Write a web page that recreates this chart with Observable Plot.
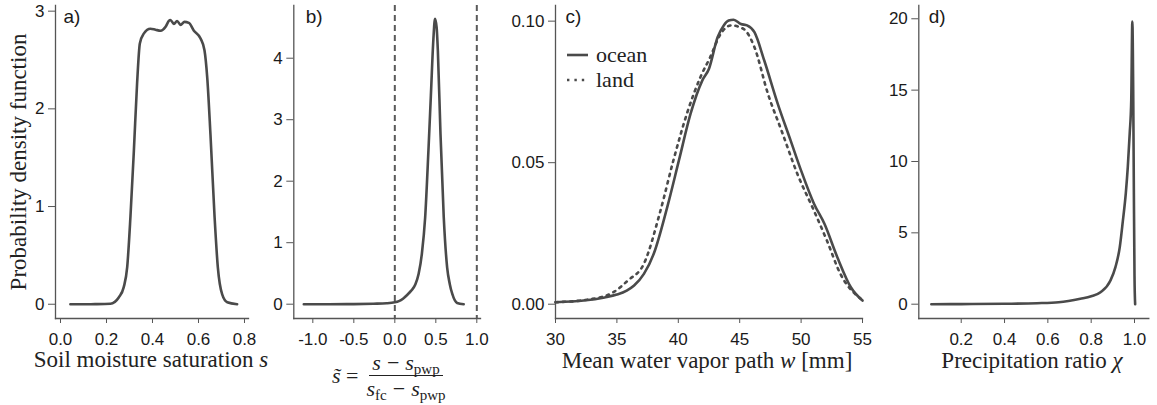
<!DOCTYPE html>
<html><head><meta charset="utf-8">
<script src="https://cdn.jsdelivr.net/npm/d3@7"></script>
<script src="https://cdn.jsdelivr.net/npm/@observablehq/plot@0.6"></script>
<style>
body{margin:0;background:#fff;}
#wrap{position:relative;width:1157px;height:405px;overflow:hidden;background:#fff;}
.ttl{position:absolute;font-family:"Liberation Serif",serif;font-size:23px;color:#222;white-space:nowrap;line-height:1;transform:translate(-50%,-50%);}
.ttl i{font-style:italic;}
#legend{position:absolute;left:566px;top:42px;font-family:"Liberation Serif",serif;font-size:22px;color:#222;line-height:25px;}
#legend div{display:flex;align-items:center;}
#legend svg{margin-right:6px;}
#formula{position:absolute;left:332px;top:352px;font-family:"Liberation Serif",serif;font-size:22px;color:#222;display:flex;align-items:center;white-space:nowrap;line-height:21px;}
#formula sub{font-size:15px;vertical-align:baseline;position:relative;top:4px;font-style:normal;line-height:0;}
#formula .frac{display:inline-flex;flex-direction:column;align-items:center;margin-left:8px;}
#formula .num{border-bottom:1.3px solid #222;padding:0 3px 2px 3px;height:21px;}
#formula .den{padding-top:2px;height:21px;}
#formula .op{display:inline-block;margin:0 6px;}
</style></head><body><div id="wrap"></div>
<script>
// ---------- data ----------
// a) soil moisture saturation s
const aS = [0.043, 0.10, 0.15, 0.217, 0.254, 0.275, 0.29, 0.304, 0.319, 0.333, 0.345, 0.362, 0.391, 0.413, 0.435, 0.457, 0.471, 0.478, 0.493, 0.507, 0.522, 0.539, 0.558, 0.58, 0.609, 0.626, 0.638, 0.652, 0.67, 0.684, 0.703, 0.725, 0.768];
const aPdf = [0, 0, 0.001, 0.005, 0.072, 0.175, 0.38, 0.89, 1.57, 2.26, 2.67, 2.77, 2.82, 2.81, 2.80, 2.84, 2.90, 2.91, 2.87, 2.90, 2.86, 2.89, 2.88, 2.80, 2.72, 2.60, 2.32, 1.74, 0.89, 0.38, 0.10, 0.02, 0];
// b) normalised soil moisture
const bS = [-1.11, -0.8, -0.5, -0.26, -0.1, 0.0, 0.05, 0.1, 0.15, 0.2, 0.25, 0.29, 0.33, 0.37, 0.41, 0.44, 0.47, 0.49, 0.51, 0.525, 0.557, 0.597, 0.638, 0.67, 0.7, 0.76, 0.84];
const bPdf = [0, 0, 0.002, 0.008, 0.015, 0.03, 0.05, 0.09, 0.15, 0.22, 0.32, 0.49, 0.82, 1.41, 2.5, 3.4, 4.3, 4.64, 4.5, 4.12, 2.77, 1.41, 0.6, 0.33, 0.17, 0.02, 0];
const bGuides = [0, 1];
// c) mean water vapour path
const cOceanW = [30, 32.3, 34, 35, 35.8, 36.4, 37.2, 38.0, 39.1, 40.05, 41.0, 41.95, 42.5, 43.2, 43.7, 44.1, 44.5, 45.1, 45.6, 46.2, 47.0, 48.1, 49.15, 50.0, 51.05, 51.9, 52.95, 54.05, 55];
const cOceanPdf = [0.0007, 0.0013, 0.0024, 0.0034, 0.0048, 0.0066, 0.0107, 0.0178, 0.0343, 0.0508, 0.0673, 0.079, 0.0832, 0.0943, 0.0985, 0.1002, 0.1005, 0.099, 0.0985, 0.0961, 0.0861, 0.0708, 0.0578, 0.0472, 0.0355, 0.0284, 0.0166, 0.006, 0.0013];
const cLandW = [30, 32.6, 34.7, 35.9, 37.2, 38.55, 39.6, 40.7, 41.8, 42.6, 43.45, 44.3, 45.3, 46.2, 47.3, 48.4, 49.7, 51.05, 52.1, 53.2, 54.85];
const cLandPdf = [0.0007, 0.0016, 0.0042, 0.0084, 0.0143, 0.0331, 0.0508, 0.0673, 0.0802, 0.0873, 0.0955, 0.0985, 0.0973, 0.0908, 0.0743, 0.0614, 0.046, 0.033, 0.0225, 0.0107, 0.0019];
const cSeries = ["ocean", "land"];
// d) precipitation ratio chi
const dChi = [0.062, 0.15, 0.25, 0.4, 0.55, 0.65, 0.75, 0.8, 0.843, 0.889, 0.912, 0.932, 0.946, 0.96, 0.969, 0.978, 0.985, 0.99, 0.994, 0.997, 1.0, 1.003];
const dPdf = [0, 0.005, 0.01, 0.03, 0.07, 0.14, 0.38, 0.55, 0.84, 1.66, 2.6, 4.0, 5.8, 7.8, 9.6, 12, 14.3, 19.8, 15, 8, 2, 0];

// tick values
const aXTicks = [0, 0.2, 0.4, 0.6, 0.8], aYTicks = [0, 1, 2, 3];
const bXTicks = [-1, -0.5, 0, 0.5, 1], bYTicks = [0, 1, 2, 3, 4];
const cXTicks = [30, 35, 40, 45, 50, 55], cYTicks = [0, 0.05, 0.10];
const dXTicks = [0.2, 0.4, 0.6, 0.8, 1.0], dYTicks = [0, 5, 10, 15, 20];
const panelLabels = ["a)", "b)", "c)", "d)"];

// ---------- drawing ----------
const lineColor = "#4a4a4a", axisColor = "#555";
const landDash = "2.4,5";
const wrap = document.getElementById("wrap");
const zip = (xs, ys) => xs.map((x, i) => ({x, y: ys[i]}));

function panel({left, width, marginLeft, marginRight, xDomain, yDomain, xTicks, yTicks, xFmt, yFmt, marks, label, labelDx}) {
  const p = Plot.plot({
    width, height: 405, marginLeft, marginRight, marginTop: 5, marginBottom: 87,
    style: {fontFamily: "'Liberation Sans', Arial, sans-serif", fontSize: "17px", color: "#222", background: "transparent", overflow: "visible"},
    x: {domain: xDomain}, y: {domain: yDomain},
    marks: [
      Plot.axisX({ticks: xTicks, tickFormat: xFmt, tickSize: 5, tickPadding: 9, stroke: axisColor, fill: "#1a1a1a", fontSize: 17, label: null}),
      Plot.axisY({ticks: yTicks, tickFormat: yFmt, tickSize: 7, tickPadding: 4, stroke: axisColor, fill: "#1a1a1a", fontSize: 17, label: null}),
      Plot.frame({anchor: "left", stroke: axisColor, strokeWidth: 1.3}),
      Plot.frame({anchor: "bottom", stroke: axisColor, strokeWidth: 1.3}),
      ...marks,
      Plot.text([label], {frameAnchor: "top-left", text: d => d, dx: labelDx, dy: 4, lineAnchor: "top", textAnchor: "start", fontSize: 19, fill: "#1a1a1a"})
    ]
  });
  p.style.position = "absolute";
  p.style.left = left + "px";
  p.style.top = "0px";
  wrap.appendChild(p);
}

const f1 = d => d.toFixed(1);

panel({left: 0, width: 262, marginLeft: 55, marginRight: 14,
  xDomain: [-0.0217, 0.8174], yDomain: [-0.146, 3.058], xTicks: aXTicks, yTicks: aYTicks, xFmt: f1, yFmt: d => String(d),
  label: panelLabels[0], labelDx: 8,
  marks: [Plot.line(zip(aS, aPdf), {x: "x", y: "y", stroke: lineColor, strokeWidth: 2.6, curve: "monotone-x"})]});

panel({left: 262, width: 222, marginLeft: 31.3, marginRight: 4,
  xDomain: [-1.232, 1.045], yDomain: [-0.2325, 4.857], xTicks: bXTicks, yTicks: bYTicks, xFmt: f1, yFmt: d => String(d),
  label: panelLabels[1], labelDx: 12,
  marks: [
    Plot.ruleX(bGuides, {stroke: "#5a5a5a", strokeWidth: 2, strokeDasharray: "6,4"}),
    Plot.line(zip(bS, bPdf), {x: "x", y: "y", stroke: lineColor, strokeWidth: 2.6, curve: "monotone-x"})]});

panel({left: 484, width: 384, marginLeft: 71, marginRight: 6,
  xDomain: [30, 55], yDomain: [-0.00505, 0.10553], xTicks: cXTicks, yTicks: cYTicks, xFmt: d => String(d), yFmt: d => d.toFixed(2),
  label: panelLabels[2], labelDx: 10,
  marks: [
    Plot.line(zip(cLandW, cLandPdf), {x: "x", y: "y", stroke: lineColor, strokeWidth: 2.6, strokeDasharray: landDash, curve: "monotone-x"}),
    Plot.line(zip(cOceanW, cOceanPdf), {x: "x", y: "y", stroke: lineColor, strokeWidth: 2.6, curve: "monotone-x"})]});

panel({left: 868, width: 289, marginLeft: 50.3, marginRight: 8.7,
  xDomain: [0.0042, 1.066], yDomain: [-1.002, 20.93], xTicks: dXTicks, yTicks: dYTicks, xFmt: f1, yFmt: d => String(d),
  label: panelLabels[3], labelDx: 10,
  marks: [Plot.line(zip(dChi, dPdf), {x: "x", y: "y", stroke: lineColor, strokeWidth: 2.6, curve: "monotone-x"})]});

// ---------- titles ----------
function title(html, x, y, rot) {
  const d = document.createElement("div");
  d.className = "ttl";
  d.innerHTML = html;
  d.style.left = x + "px"; d.style.top = y + "px";
  if (rot) d.style.transform = "translate(-50%,-50%) rotate(-90deg)";
  wrap.appendChild(d);
}
title("Probability density function", 18, 162, true);
title("Soil moisture saturation <i>s</i>", 151, 359);
title("Mean water vapor path <i>w</i> [mm]", 707, 360);
title("Precipitation ratio <i>χ</i>", 1032, 360);

// formula for panel b
const fm = document.createElement("div");
fm.id = "formula";
fm.innerHTML = '<span><i>s̃</i> =</span><span class="frac"><span class="num"><i>s</i><span class="op">−</span><i>s</i><sub>pwp</sub></span><span class="den"><i>s</i><sub>fc</sub><span class="op">−</span><i>s</i><sub>pwp</sub></span></span>';
wrap.appendChild(fm);

// legend for panel c
const lg = document.createElement("div");
lg.id = "legend";
lg.innerHTML = cSeries.map((name, i) =>
  `<div><svg width="24" height="10"><line x1="1" x2="22" y1="5" y2="5" stroke="${lineColor}" stroke-width="2.6" ${i ? `stroke-dasharray="${landDash}"` : ''}/></svg><span>${name}</span></div>`).join("");
wrap.appendChild(lg);
</script></body></html>
